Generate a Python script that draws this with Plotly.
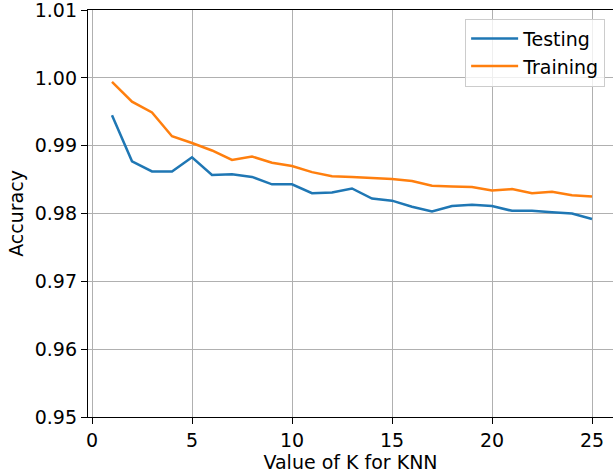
import plotly.graph_objects as go

k_values = list(range(1, 26))
testing_acc = [0.9945, 0.9877, 0.9862, 0.9862, 0.9883, 0.9857, 0.9858, 0.9854, 0.9843, 0.9843,
               0.9830, 0.9831, 0.9837, 0.9822, 0.9819, 0.9810, 0.9803, 0.9811, 0.9813, 0.9811,
               0.9804, 0.9804, 0.9802, 0.9800, 0.9792]
training_acc = [0.9994, 0.9965, 0.9949, 0.9914, 0.9904, 0.9893, 0.9879, 0.9884, 0.9875, 0.9870,
                0.9861, 0.9855, 0.9854, 0.9853, 0.9851, 0.9848, 0.9841, 0.9840, 0.9839, 0.9834,
                0.9836, 0.9830, 0.9832, 0.9827, 0.9825]
x_ticks = [0, 5, 10, 15, 20, 25]
y_ticks = [0.95, 0.96, 0.97, 0.98, 0.99, 1.00, 1.01]

fig = go.Figure()
fig.add_trace(go.Scatter(x=k_values, y=testing_acc, mode="lines", name="Testing",
                         line=dict(color="#1f77b4", width=2.5)))
fig.add_trace(go.Scatter(x=k_values, y=training_acc, mode="lines", name="Training",
                         line=dict(color="#ff7f0e", width=2.5)))

font = dict(family="DejaVu Sans", size=19, color="black")
fig.update_layout(
    width=613, height=476,
    margin=dict(l=88, r=0, t=10, b=59),
    paper_bgcolor="white", plot_bgcolor="white",
    font=font,
    showlegend=True,
    legend=dict(x=0.985, y=0.979, xanchor="right", yanchor="top",
                bgcolor="rgba(255,255,255,0.8)", bordercolor="#cccccc", borderwidth=1,
                itemwidth=47, font=font),
    xaxis=dict(range=[-0.2, 26.05], tickvals=x_ticks, ticktext=[str(v) for v in x_ticks],
               automargin=False, ticklabeloverflow="allow",
               showgrid=True, gridcolor="#b0b0b0", gridwidth=1.3, zeroline=False,
               showline=True, linecolor="black", linewidth=1.3, mirror=True,
               ticks="outside", ticklen=6, tickwidth=1.3, tickcolor="black",
               title=dict(text="Value of K for KNN", font=font, standoff=4)),
    yaxis=dict(range=[0.95, 1.01001], tickvals=y_ticks, ticktext=[f"{v:.2f}" for v in y_ticks],
               automargin=False, ticklabeloverflow="allow",
               showgrid=True, gridcolor="#b0b0b0", gridwidth=1.3, zeroline=False,
               showline=True, linecolor="black", linewidth=1.3, mirror=False,
               ticks="outside", ticklen=6, tickwidth=1.3, tickcolor="black",
               title=dict(text="Accuracy", font=font, standoff=6)),
)

fig.write_html("out.html", config={"displayModeBar": False},
               post_script="document.body.style.margin='0';")
